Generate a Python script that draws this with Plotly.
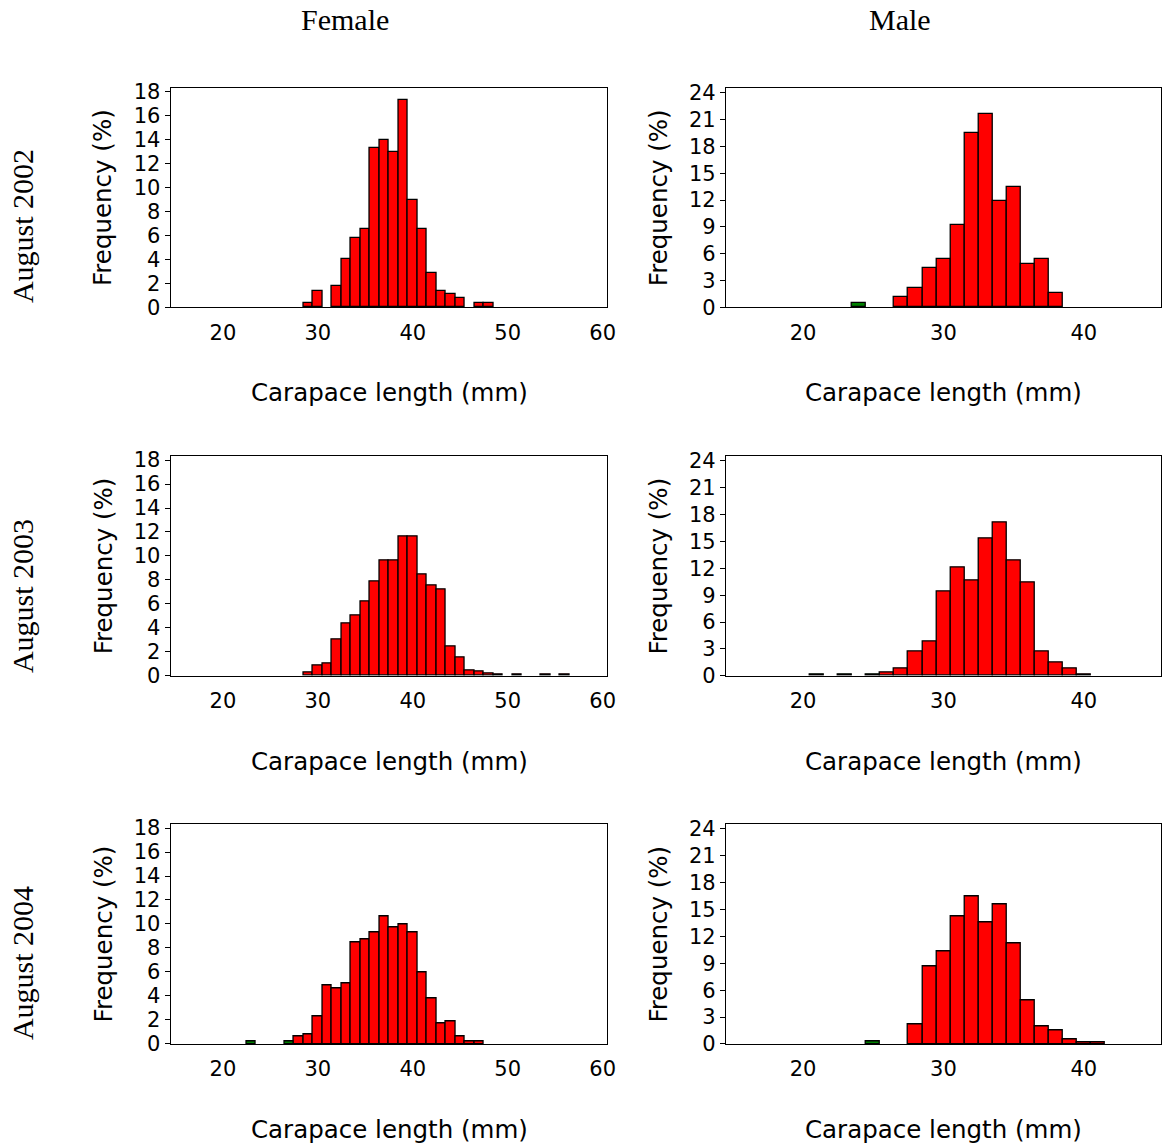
import plotly.graph_objects as go

# Carapace length bin centres (mm) and frequency (%) per sex and survey.
# "adult" bins are drawn red, "small" bins green.
f2002_len = [29, 30, 32, 33, 34, 35, 36, 37, 38, 39, 40, 41, 42, 43, 44, 45, 47, 48]
f2002_pct = [0.35, 1.4, 1.8, 4.0, 5.75, 6.5, 13.3, 14.0, 13.0, 17.3, 9.0, 6.5, 2.9, 1.4, 1.1, 0.75, 0.35, 0.35]
f2002_small_len = []
f2002_small_pct = []

m2002_len = [27, 28, 29, 30, 31, 32, 33, 34, 35, 36, 37, 38]
m2002_pct = [1.13, 2.18, 4.36, 5.45, 9.2, 19.5, 21.6, 11.9, 13.5, 4.9, 5.4, 1.6]
m2002_small_len = [24]
m2002_small_pct = [0.53]

f2003_len = [29, 30, 31, 32, 33, 34, 35, 36, 37, 38, 39, 40, 41, 42, 43, 44, 45, 46, 47, 48, 49, 51, 54, 56]
f2003_pct = [0.25, 0.83, 1.05, 3.0, 4.33, 5.0, 6.2, 7.9, 9.6, 9.6, 11.6, 11.6, 8.5, 7.55, 7.2, 2.45, 1.5, 0.47, 0.36, 0.22, 0.14, 0.14, 0.14, 0.14]
f2003_small_len = []
f2003_small_pct = []

m2003_len = [26, 27, 28, 29, 30, 31, 32, 33, 34, 35, 36, 37, 38, 39, 40]
m2003_pct = [0.34, 0.83, 2.78, 3.8, 9.4, 12.1, 10.6, 15.3, 17.1, 12.9, 10.4, 2.78, 1.47, 0.79, 0.19]
m2003_small_len = [21, 23, 25]
m2003_small_pct = [0.19, 0.19, 0.19]

f2004_len = [28, 29, 30, 31, 32, 33, 34, 35, 36, 37, 38, 39, 40, 41, 42, 43, 44, 45, 46, 47]
f2004_pct = [0.6, 0.8, 2.28, 4.9, 4.64, 5.03, 8.44, 8.72, 9.28, 10.6, 9.75, 9.94, 9.28, 5.94, 3.78, 1.67, 1.89, 0.6, 0.22, 0.22]
f2004_small_len = [23, 27]
f2004_small_pct = [0.2, 0.2]

m2004_len = [28, 29, 30, 31, 32, 33, 34, 35, 36, 37, 38, 39, 40, 41]
m2004_pct = [2.14, 8.7, 10.3, 14.25, 16.5, 13.6, 15.6, 11.2, 4.9, 1.9, 1.47, 0.45, 0.2, 0.2]
m2004_small_len = [25]
m2004_small_pct = [0.23]

column_titles = ["Female", "Male"]
row_titles = ["August 2002", "August 2003", "August 2004"]
x_title = "Carapace length (mm)"
y_title = "Frequency (%)"

female_xticks = [20, 30, 40, 50, 60]
male_xticks = [20, 30, 40]
female_yticks = [0, 2, 4, 6, 8, 10, 12, 14, 16, 18]
male_yticks = [0, 3, 6, 9, 12, 15, 18, 21, 24]

panels = [
    # (row, col, red x, red y, green x, green y)
    (0, 0, f2002_len, f2002_pct, f2002_small_len, f2002_small_pct),
    (0, 1, m2002_len, m2002_pct, m2002_small_len, m2002_small_pct),
    (1, 0, f2003_len, f2003_pct, f2003_small_len, f2003_small_pct),
    (1, 1, m2003_len, m2003_pct, m2003_small_len, m2003_small_pct),
    (2, 0, f2004_len, f2004_pct, f2004_small_len, f2004_small_pct),
    (2, 1, m2004_len, m2004_pct, m2004_small_len, m2004_small_pct),
]

W, H = 1170, 1148
col_px = [(172.0, 612.1), (731.5, 1170.0)]                   # left/right of each plot column
row_px = [(81.5, 304.8), (456.4, 679.7), (830.9, 1054.3)]    # top/bottom of each plot row
col_title_x = [347.3, 906.5]
col_title_y = 12.0
row_title_x = 23.4
row_title_y = [221.7, 598.3, 971.8]
x_title_y = [391.7, 767.2, 1141.8]
y_title_offset = 68

SANS = "DejaVu Sans, Verdana, sans-serif"
SERIF = "Liberation Serif, Times New Roman, serif"

fig = go.Figure()
layout = dict(
    width=W, height=H,
    margin=dict(l=0, r=0, t=0, b=0),
    paper_bgcolor="white", plot_bgcolor="white",
    showlegend=False, bargap=0, barmode="overlay",
)
annotations = []

for i, (r, c, rx, ry, gx, gy) in enumerate(panels):
    n = i + 1
    xa = "x" if n == 1 else f"x{n}"
    ya = "y" if n == 1 else f"y{n}"
    fig.add_trace(go.Bar(
        x=rx, y=ry, width=1, xaxis=xa, yaxis=ya,
        marker=dict(color="#ff0000", line=dict(color="black", width=1.3)),
    ))
    if gx:
        fig.add_trace(go.Bar(
            x=gx, y=gy, width=1, xaxis=xa, yaxis=ya,
            marker=dict(color="#008000", line=dict(color="black", width=1.3)),
        ))

    x0, x1 = col_px[c]
    t, b = row_px[r]
    xdom = [x0 / W, min(x1 / W, 1.0)]
    ydom = [1 - b / H, 1 - t / H]
    female = c == 0
    layout["xaxis" if n == 1 else f"xaxis{n}"] = dict(
        domain=xdom, anchor=ya,
        range=[14.5, 60.5] if female else [14.5, 45.5],
        tickvals=female_xticks if female else male_xticks,
        ticks="", showline=True, mirror=True, linecolor="black", linewidth=1,
        showgrid=False, zeroline=False,
        tickfont=dict(family=SANS, size=21, color="black"),
        ticklabelstandoff=6,
    )
    layout["yaxis" if n == 1 else f"yaxis{n}"] = dict(
        domain=ydom, anchor=xa,
        range=[0, 18.3] if female else [0, 24.5],
        tickvals=female_yticks if female else male_yticks,
        ticks="outside", ticklen=5, tickcolor="black", tickwidth=1,
        showline=True, mirror=True, linecolor="black", linewidth=1,
        showgrid=False, zeroline=False,
        tickfont=dict(family=SANS, size=21, color="black"),
        ticklabelstandoff=0,
    )

    # x-axis title below each panel
    annotations.append(dict(
        text=x_title, xref="paper", yref="paper",
        x=(x0 + x1) / 2 / W, y=1 - x_title_y[r] / H,
        showarrow=False, xanchor="center", yanchor="middle",
        font=dict(family=SANS, size=24.5, color="black"),
    ))
    # y-axis title left of each panel
    annotations.append(dict(
        text=y_title, xref="paper", yref="paper",
        x=(x0 - y_title_offset) / W, y=1 - (t + b) / 2 / H,
        showarrow=False, xanchor="center", yanchor="middle", textangle=-90,
        font=dict(family=SANS, size=24.5, color="black"),
    ))

# column headings
for c, title in enumerate(column_titles):
    annotations.append(dict(
        text=title, xref="paper", yref="paper",
        x=col_title_x[c] / W, y=1 - col_title_y / H,
        showarrow=False, xanchor="center", yanchor="middle",
        font=dict(family=SERIF, size=30, color="black"),
    ))

# row headings
for r, title in enumerate(row_titles):
    annotations.append(dict(
        text=title, xref="paper", yref="paper",
        x=row_title_x / W, y=1 - row_title_y[r] / H,
        showarrow=False, xanchor="center", yanchor="middle", textangle=-90,
        font=dict(family=SERIF, size=30, color="black"),
    ))

layout["annotations"] = annotations
fig.update_layout(**layout)
fig.write_html("out.html")
